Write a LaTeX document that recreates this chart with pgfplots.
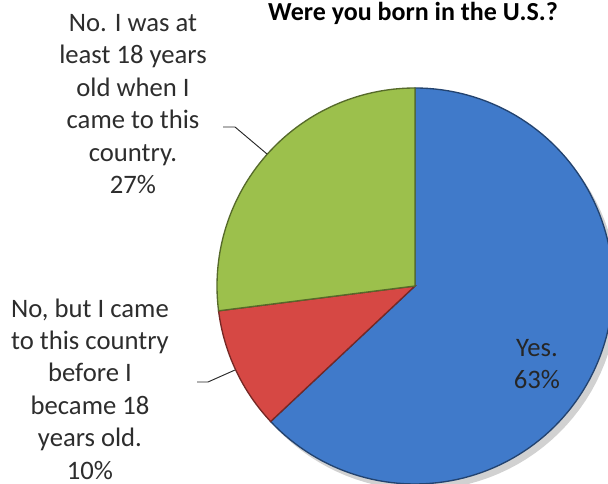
\documentclass[border=0pt]{standalone}
\usepackage{pgfplots}
\pgfplotsset{compat=1.18}
\usepackage{fontspec}
\setmainfont{Carlito}
\definecolor{pieblue}{RGB}{64,122,202}
\definecolor{piered}{RGB}{214,72,68}
\definecolor{piegreen}{RGB}{156,192,76}
\definecolor{txt}{RGB}{45,45,45}
% data (percent)
\def\vYes{63}
\def\vBefore{10}
\def\vAfter{27}
\def\cx{415}
\def\cy{-286}
\def\rr{198}
\begin{document}
\begin{tikzpicture}
\begin{axis}[
  scale only axis, width=456pt, height=363pt,
  xmin=0, xmax=608, ymin=-484, ymax=0,
  hide axis, clip=true,
]
% shadow
\addplot[fill=black, draw=none, opacity=0.18, domain=0:360, samples=120, variable=\t]
  ({\cx+5+\rr*cos(t)}, {\cy-6+\rr*sin(t)}) -- cycle;
% Yes
\addplot[fill=pieblue, draw=pieblue!55!black, line width=1pt, domain={90-3.6*\vYes}:90, samples=120, variable=\t]
  ({\cx+\rr*cos(t)}, {\cy+\rr*sin(t)}) -- (axis cs:\cx,\cy) -- cycle;
% Before 18
\addplot[fill=piered, draw=piered!55!black, line width=1pt, domain={90-3.6*(\vYes+\vBefore)}:{90-3.6*\vYes}, samples=40, variable=\t]
  ({\cx+\rr*cos(t)}, {\cy+\rr*sin(t)}) -- (axis cs:\cx,\cy) -- cycle;
% After 18
\addplot[fill=piegreen, draw=piegreen!55!black, line width=1pt, domain={90-3.6*(\vYes+\vBefore+\vAfter)}:{90-3.6*(\vYes+\vBefore)}, samples=80, variable=\t]
  ({\cx+\rr*cos(t)}, {\cy+\rr*sin(t)}) -- (axis cs:\cx,\cy) -- cycle;
% leader lines
\draw[black!85, line width=0.7pt] (axis cs:223,-127) -- (axis cs:235,-127) -- (axis cs:267,-154);
\draw[black!85, line width=0.7pt] (axis cs:197,-382) -- (axis cs:208,-382) -- (axis cs:235,-370);
% labels
\node[font=\bfseries\fontsize{19.5}{22}\selectfont, text=black] at (axis cs:413,-13) {Were you born in the U.S.?};
\node[font=\fontsize{20}{24.3}\selectfont, text=txt, align=center] at (axis cs:133,-104)
  {No. I was at\\least 18 years\\old when I\\came to this\\country.\\27\%};
\node[font=\fontsize{20}{24.3}\selectfont, text=txt, align=center] at (axis cs:90,-389)
  {No, but I came\\to this country\\before I\\became 18\\years old.\\10\%};
\node[font=\fontsize{20}{24.3}\selectfont, text=black!85, align=center] at (axis cs:537,-364)
  {Yes.\\63\%};
\end{axis}
\pgfresetboundingbox
\path[use as bounding box] (current axis.south west) rectangle (current axis.north east);
\end{tikzpicture}
\end{document}
